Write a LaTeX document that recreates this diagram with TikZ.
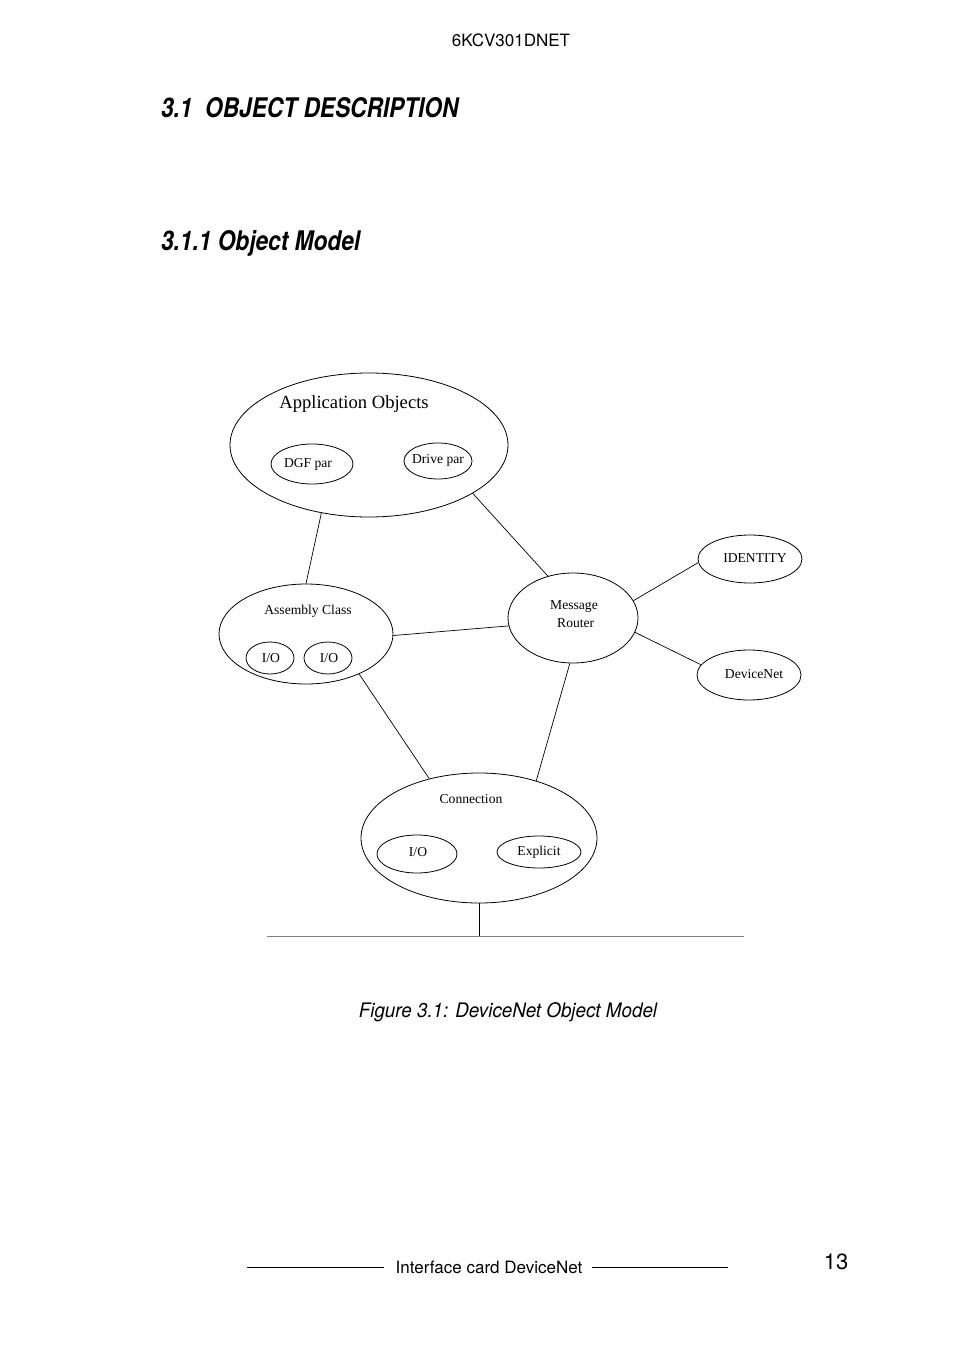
\documentclass[tikz,border=0pt]{standalone}
\usepackage{fontspec}
\setmainfont{Liberation Serif}
\newfontfamily\hsans{TeX Gyre Heros}
\newfontfamily\hsansc[FakeStretch=0.84]{TeX Gyre Heros}
\newfontfamily\hsanscap[FakeStretch=0.94]{TeX Gyre Heros}
\usetikzlibrary{shapes.geometric}
\begin{document}
\begin{tikzpicture}[x=0.5pt,y=-0.5pt,
  ell/.style={draw,ellipse,inner sep=0pt,line width=0.4pt},
  lnk/.style={draw,line width=0.35pt},
  small/.style={font=\fontsize{6.8}{8}\selectfont,align=center},
  head/.style={font=\hsansc\bfseries\itshape\fontsize{13.5}{16}\selectfont,anchor=west}]
\useasboundingbox[fill=white] (0,0) rectangle (954,1352);
\node[font=\hsans\fontsize{8.5}{10}\selectfont] (hdr) at (511,40) {6KCV301DNET};
\node[head] (h1) at (154,108) {3.1\ \ OBJECT DESCRIPTION};
\node[head] (h2) at (154,243) {3.1.1 Object Model};
% ellipses
\node[ell,minimum width=278pt/2,minimum height=144pt/2] (app) at (369,445) {};
\node[ell,minimum width=82pt/2,minimum height=40pt/2] (dgf) at (312,464) {};
\node[ell,minimum width=68pt/2,minimum height=36pt/2] (drv) at (438,461) {};
\node[ell,minimum width=174pt/2,minimum height=100pt/2] (asm) at (306,634) {};
\node[ell,minimum width=48pt/2,minimum height=32pt/2] (io1) at (270,658) {};
\node[ell,minimum width=48pt/2,minimum height=32pt/2] (io2) at (328,658) {};
\node[ell,minimum width=130pt/2,minimum height=90pt/2] (rtr) at (573,618) {};
\node[ell,minimum width=104pt/2,minimum height=48pt/2] (idn) at (750,559) {};
\node[ell,minimum width=104pt/2,minimum height=50pt/2] (dvn) at (749,675) {};
\node[ell,minimum width=236pt/2,minimum height=130pt/2] (con) at (479,838) {};
\node[ell,minimum width=80pt/2,minimum height=38pt/2] (cio) at (417,854) {};
\node[ell,minimum width=84pt/2,minimum height=32pt/2] (exp) at (539,852) {};
% labels
\node[font=\fontsize{9.3}{11}\selectfont] (tapp) at (354,404) {Application Objects};
\node[small] (tdgf) at (308,464) {DGF par};
\node[small] (tdrv) at (438,460) {Drive par};
\node[small] (tasm) at (308,611) {Assembly Class};
\node[small] (tio1) at (271,658) {I/O};
\node[small] (tio2) at (329,658) {I/O};
\node[small,font=\fontsize{6.8}{9}\selectfont] (trtr) at (574,614) {Message\\ \ Router};
\node[small] (tidn) at (755,558) {IDENTITY};
\node[small] (tdvn) at (754,674) {DeviceNet};
\node[small] (tcon) at (471,799) {Connection};
\node[small] (tcio) at (418,852) {I/O};
\node[small] (texp) at (539,852) {Explicit};
% links
\draw[lnk] (app.-125) -- (asm.90);
\draw[lnk] (app.-25) -- (rtr.121);
\draw[lnk] (asm.-1) -- (rtr.187);
\draw[lnk] (asm.-37) -- (con.130);
\draw[lnk] (rtr.-94) -- (con.45);
\draw[lnk] (rtr.16) -- (idn.184);
\draw[lnk] (rtr.-13) -- (dvn.168);
\coordinate (bus) at (479,936);
\coordinate (busL) at (267,936);
\coordinate (busR) at (744,936);
\draw[lnk] (con.south) -- (bus);
\draw[lnk,gray] (busL) -- (busR);
% caption & footer
\node[font=\hsanscap\itshape\fontsize{10}{12}\selectfont] (cap) at (508,1012) {Figure 3.1: DeviceNet Object Model};
\node[font=\hsans\fontsize{8.5}{10}\selectfont] (ftr) at (489,1267) {Interface card DeviceNet};
\node[font=\hsans\fontsize{11}{13}\selectfont] (pg) at (836,1262) {13};
\coordinate (f1) at (247,1267); \coordinate (f2) at (384,1267);
\coordinate (f3) at (592,1267); \coordinate (f4) at (728,1267);
\draw[lnk] (f1) -- (f2);
\draw[lnk] (f3) -- (f4);
\end{tikzpicture}
\end{document}
